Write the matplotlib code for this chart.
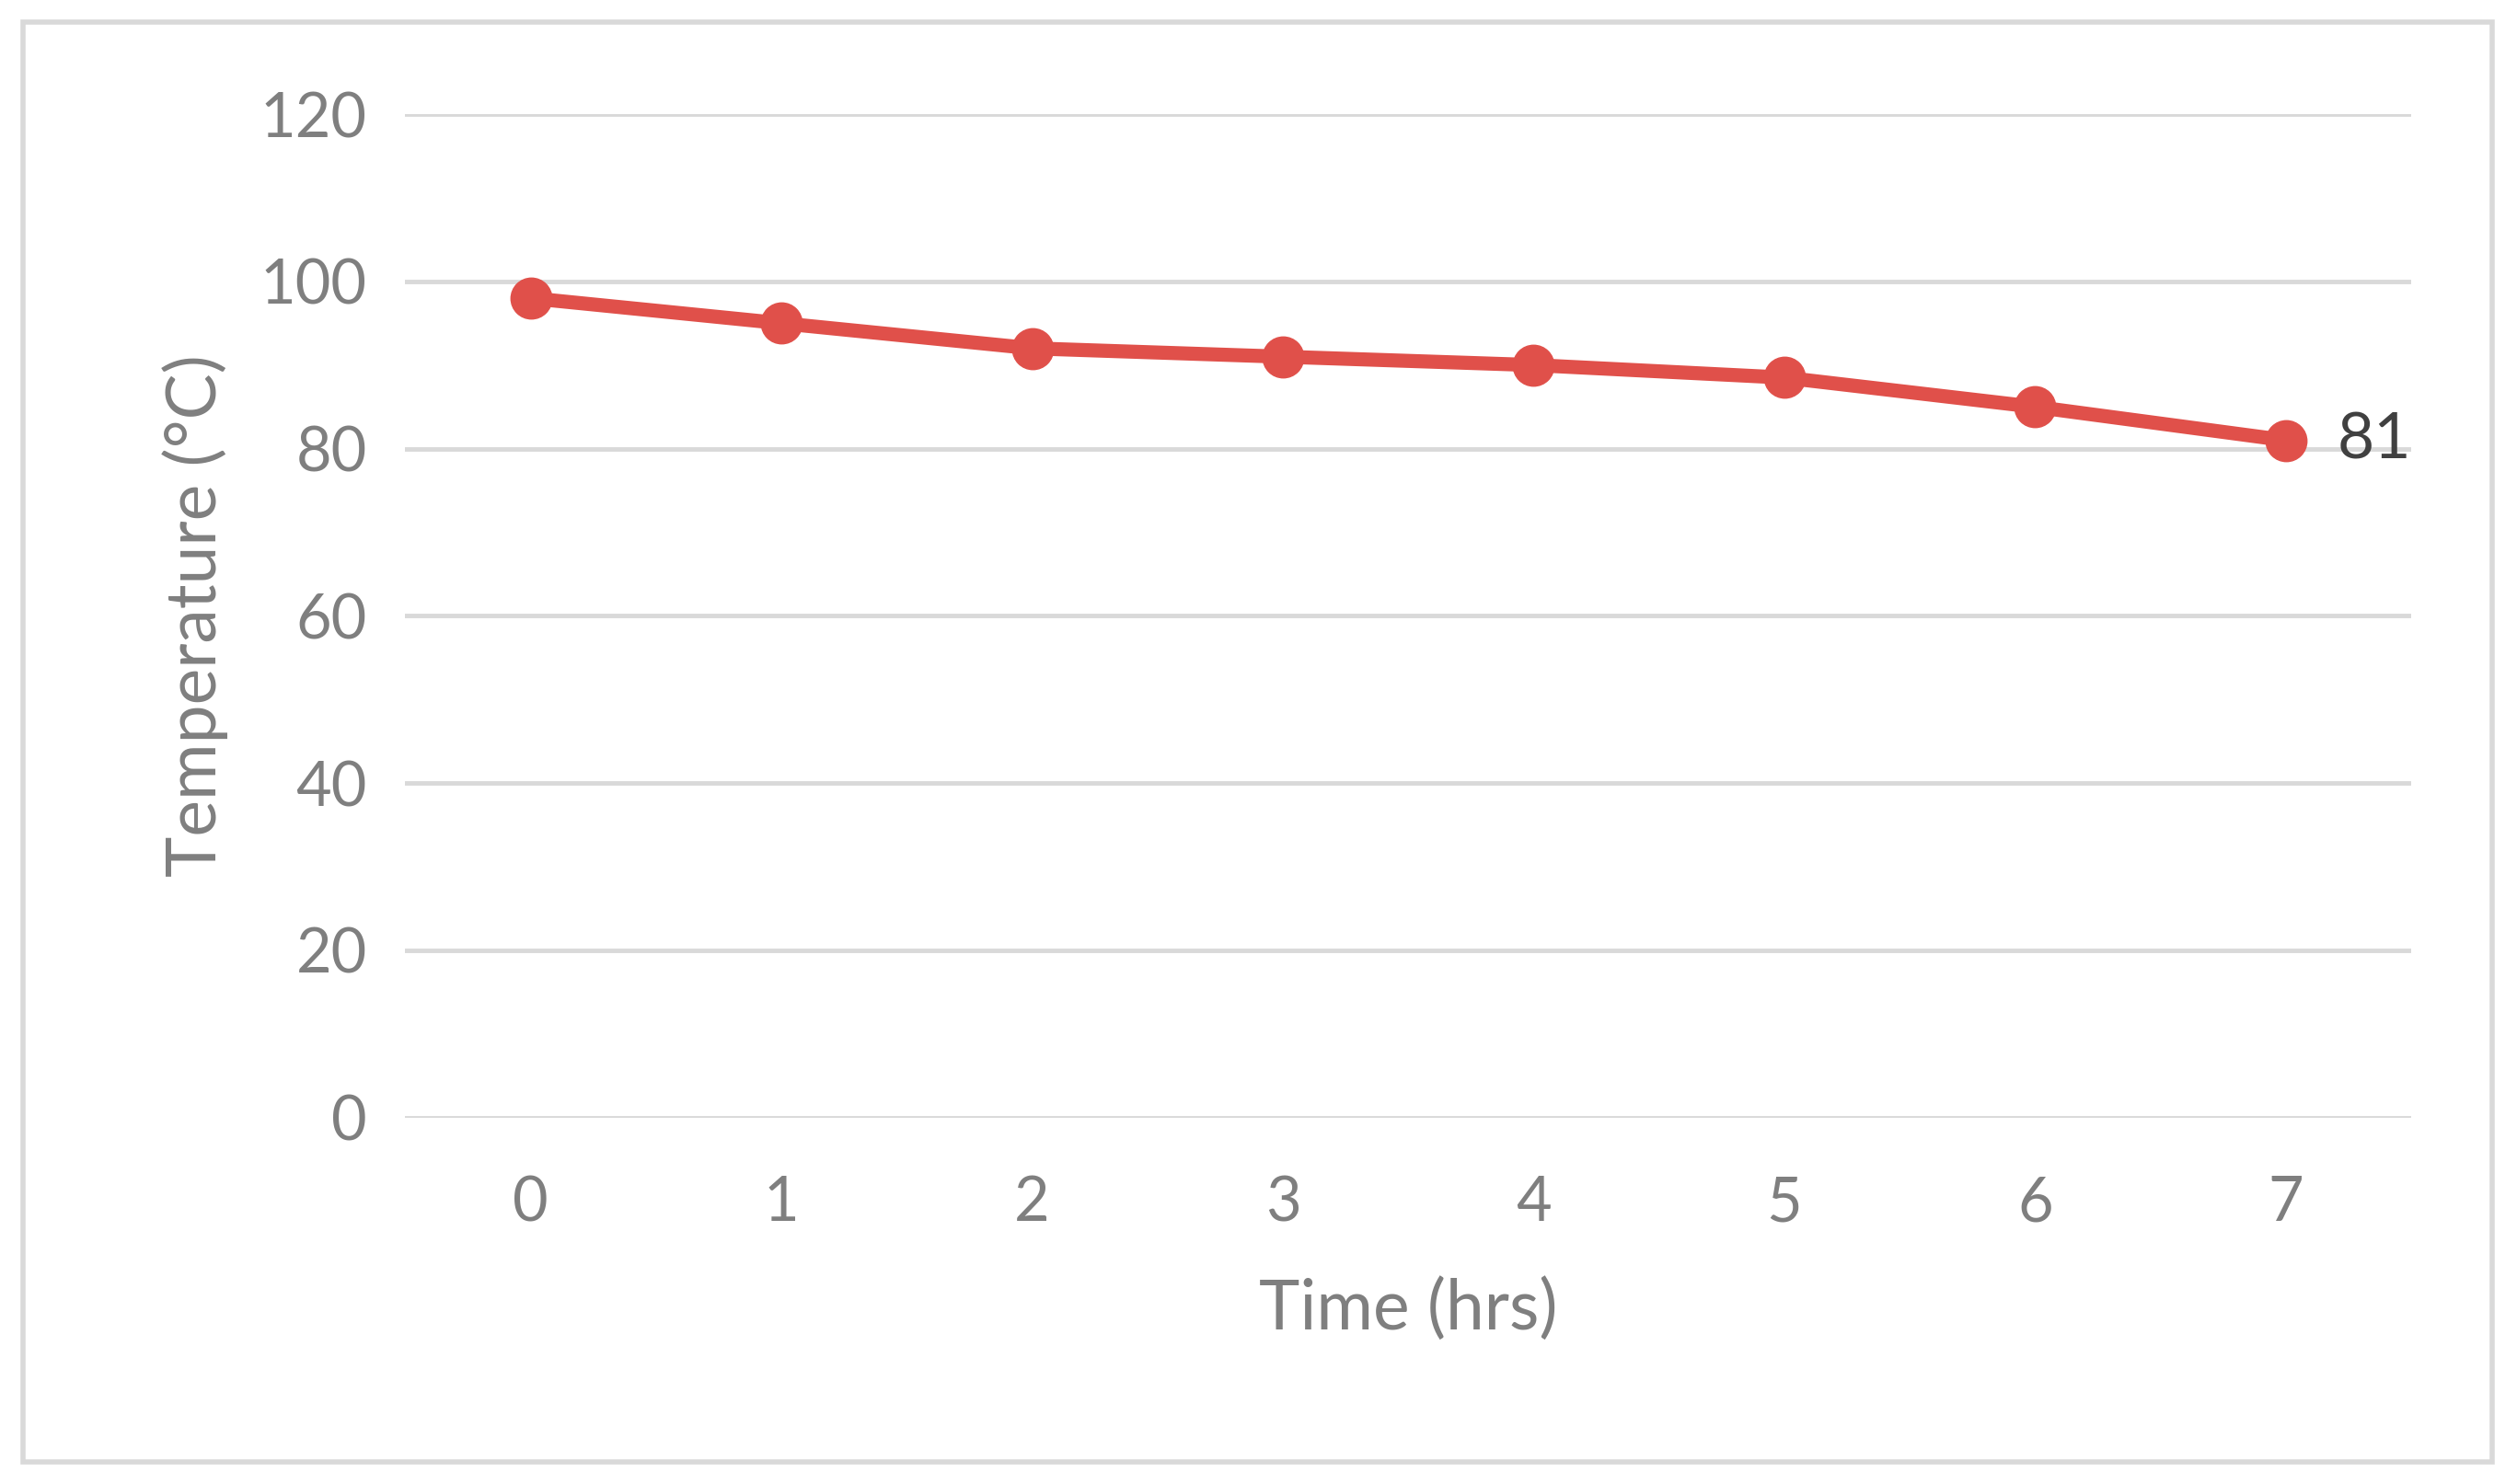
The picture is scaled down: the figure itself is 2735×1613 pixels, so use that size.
import matplotlib
matplotlib.use('Agg')
import matplotlib.pyplot as plt
from matplotlib.patches import Rectangle

hours = [0, 1, 2, 3, 4, 5, 6, 7]
temps = [98, 95, 92, 91, 90, 88.5, 85, 81]
yticks = [0, 20, 40, 60, 80, 100, 120]

plt.rcParams['font.family'] = ['Lato', 'DejaVu Sans']
grey = '#7f7f7f'
red = '#e0504a'

fig = plt.figure(figsize=(27.35, 16.13), dpi=100)
ax = fig.add_axes([0.161, 0.247, 0.797, 0.676])

ax.plot(hours, temps, color=red, linewidth=11, marker='o', markersize=32, zorder=3)
ax.annotate(f'{temps[-1]:g}', (hours[-1], temps[-1]), xytext=(40, 0),
            textcoords='offset points', va='center', ha='left',
            fontsize=50, color='#404040')

ax.set_xlim(-0.5, 7.5)
ax.set_ylim(0, 120)
ax.set_yticks(yticks)
ax.set_xticks(hours)
ax.grid(axis='y', color='#d9d9d9', linewidth=3.5)
ax.set_axisbelow(True)
for s in ax.spines.values():
    s.set_visible(False)
ax.tick_params(axis='both', length=0, labelsize=48, labelcolor=grey)
ax.tick_params(axis='x', pad=45)
ax.tick_params(axis='y', pad=30)
ax.set_xlabel('Time (hrs)', fontsize=54, color=grey, labelpad=35)
ax.set_ylabel('Temperature (°C)', fontsize=54, color=grey, labelpad=25)

fig.patches.append(Rectangle((0.009, 0.015), 0.981, 0.97, transform=fig.transFigure,
                             fill=False, edgecolor='#d9d9d9', linewidth=4))

fig.savefig('out.png', dpi=100)
